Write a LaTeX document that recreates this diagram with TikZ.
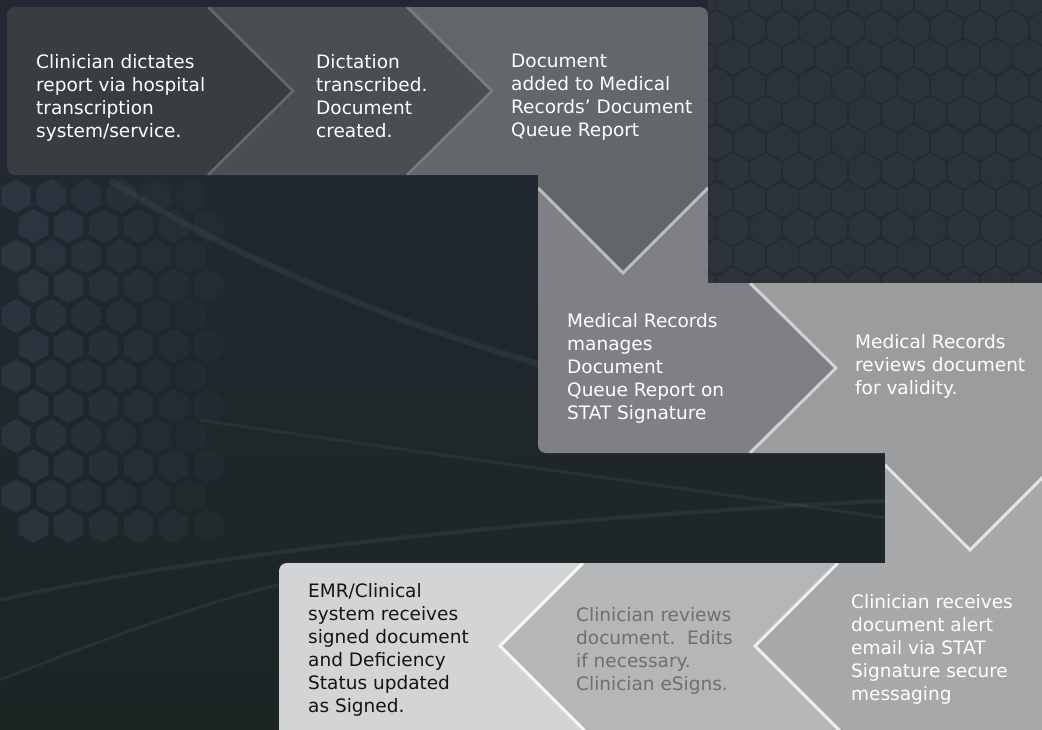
\documentclass[tikz,border=0pt]{standalone}
\usepackage{fontspec}
\setmainfont{DejaVu Sans}
\usepackage{tikz}
\usetikzlibrary{positioning}
\definecolor{bgTop}{HTML}{222934}
\definecolor{bgBottom}{HTML}{1C2524}
\definecolor{hexBlock}{HTML}{2C323A}
\definecolor{hexLine}{HTML}{242930}
\definecolor{hexDot}{HTML}{3E4858}
\definecolor{streak}{HTML}{5A7A74}
\definecolor{cellA}{HTML}{393C41}
\definecolor{cellB}{HTML}{4A4D51}
\definecolor{cellC}{HTML}{64676A}
\definecolor{cellD}{HTML}{7E8083}
\definecolor{cellE}{HTML}{9A9C9E}
\definecolor{cellF}{HTML}{A6A8AA}
\definecolor{cellG}{HTML}{B5B6B8}
\definecolor{cellH}{HTML}{D3D4D6}
\definecolor{edgeA}{HTML}{66696D}
\definecolor{edgeB}{HTML}{7A7D80}
\definecolor{edgeC}{HTML}{BABCBE}
\definecolor{edgeD}{HTML}{CFD1D3}
\definecolor{edgeE}{HTML}{E3E4E5}
\definecolor{edgeF}{HTML}{EEEEEE}
\definecolor{edgeG}{HTML}{F7F7F7}
\definecolor{textGrey}{HTML}{6E6F71}
\definecolor{textDark}{HTML}{141414}
\tikzset{
    flow-cell/.style = {fill=#1},
    flow-edge/.style = {draw=#1, line width=3pt, line join=miter},
    flow-text/.style = {anchor=base west, inner sep=0pt, text=#1, font=\fontsize{18.5}{23}\selectfont},
    bg-streak/.style = {draw=streak, line width=#1, opacity=0.15},
}
\newcommand{\flowlines}[1]{\begin{tabular}[t]{@{}l@{}}#1\end{tabular}}

\begin{document}
\begin{tikzpicture}[x=1pt, y=-1pt]
\useasboundingbox (0,0) rectangle (1042,729);
\shade[top color=bgTop, bottom color=bgBottom] (0,0) rectangle (1042,729);
\foreach \i in {0,...,5} {
    \pgfmathsetmacro\op{0.4-0.055*\i}
    \foreach \j in {0,...,11}
        \fill[hexDot, opacity=\op] ({16+35*\i+17.5*mod(\j,2)}, {196+30*\j})
            +(30:17) -- +(90:17) -- +(150:17) -- +(210:17) -- +(270:17) -- +(330:17) -- cycle;
}
\draw[bg-streak=6pt] (110,180) .. controls (220,250) and (380,320) .. (560,370);
\draw[bg-streak=4pt] (0,600) .. controls (200,555) and (500,520) .. (900,500);
\draw[bg-streak=3pt] (0,680) .. controls (150,620) and (250,590) .. (300,580);
\draw[bg-streak=3pt] (200,420) .. controls (400,450) and (700,490) .. (900,520);
\begin{scope}
    \clip (708,0) rectangle (1042,283);
    \fill[hexBlock] (708,0) rectangle (1042,283);
    \foreach \i in {0,...,11}
        \foreach \j in {0,...,10}
            \draw[hexLine, line width=1.2pt] ({700+32.9*\i+16.45*mod(\j,2)}, {28.5*\j})
                +(30:19) -- +(90:19) -- +(150:19) -- +(210:19) -- +(270:19) -- +(330:19) -- cycle;
\end{scope}

\begin{scope}
\clip[rounded corners=8pt] (7,7) -- (708,7) -- (708,283) -- (1050,283) -- (1050,740) -- (279,740)
    -- (279,563) -- (885,563) -- (885,453) -- (538,453) -- (538,175) -- (7,175) -- cycle;
\fill[flow-cell=cellA] (7,7) -- (208,7) -- (293,91) -- (208,175) -- (7,175) -- cycle;
\fill[flow-cell=cellB] (208,7) -- (407,7) -- (492,91) -- (407,175) -- (208,175) -- (293,91) -- cycle;
\fill[flow-cell=cellC] (407,7) -- (708,7) -- (708,188) -- (623,273) -- (538,188) -- (538,175)
    -- (407,175) -- (492,91) -- cycle;
\fill[flow-cell=cellD] (538,188) -- (623,273) -- (708,188) -- (708,283) -- (750,283) -- (836,368)
    -- (750,453) -- (538,453) -- cycle;
\fill[flow-cell=cellE] (750,283) -- (1050,283) -- (1050,470) -- (970,550) -- (885,465) -- (885,453)
    -- (750,453) -- (836,368) -- cycle;
\fill[flow-cell=cellF] (885,465) -- (970,550) -- (1050,470) -- (1050,740) -- (849,740) -- (755,646)
    -- (838,563) -- (885,563) -- cycle;
\fill[flow-cell=cellG] (583,563) -- (838,563) -- (755,646) -- (849,740) -- (594,740) -- (500,646) -- cycle;
\fill[flow-cell=cellH] (279,563) -- (583,563) -- (500,646) -- (594,740) -- (279,740) -- cycle;
\draw[flow-edge=edgeA, line width=2.5pt] (208,7) -- (293,91) -- (208,175);
\draw[flow-edge=edgeB, line width=2.5pt] (407,7) -- (492,91) -- (407,175);
\draw[flow-edge=edgeC] (538,188) -- (623,273) -- (708,188);
\draw[flow-edge=edgeD] (750,283) -- (836,368) -- (750,453);
\draw[flow-edge=edgeE] (885,465) -- (970,550) -- (1050,470);
\draw[flow-edge=edgeF] (838,563) -- (755,646) -- (849,740);
\draw[flow-edge=edgeG] (583,563) -- (500,646) -- (594,740);
\end{scope}

\node[flow-text=white] (dictate) at (36,68) {\flowlines{Clinician dictates\\report via hospital\\transcription\\system/service.}};
\node[flow-text=white] (transcribe) at (316,68) {\flowlines{Dictation\\transcribed.\\Document\\created.}};
\node[flow-text=white] (queue) at (511,67) {\flowlines{Document\\added to Medical\\Records’ Document\\Queue Report}};
\node[flow-text=white] (manage) at (567,327) {\flowlines{Medical Records\\manages\\Document\\Queue Report on\\STAT Signature}};
\node[flow-text=white] (validate) at (855,348) {\flowlines{Medical Records\\reviews document\\for validity.}};
\node[flow-text=white] (alert) at (851,608) {\flowlines{Clinician receives\\document alert\\email via STAT\\Signature secure\\messaging}};
\node[flow-text=textGrey] (esign) at (576,621) {\flowlines{Clinician reviews\\document.\ \ Edits\\if necessary.\\Clinician eSigns.}};
\node[flow-text=textDark] (signed) at (308,597) {\flowlines{EMR/Clinical\\system receives\\signed document\\and Deficiency\\Status updated\\as Signed.}};
\end{tikzpicture}
\end{document}
